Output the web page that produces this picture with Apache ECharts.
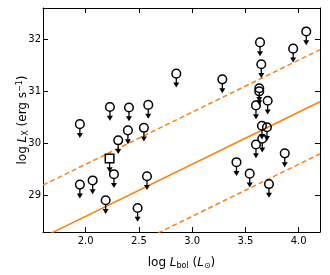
<!DOCTYPE html>
<html>
<head>
<meta charset="utf-8">
<script src="https://cdn.jsdelivr.net/npm/echarts@6/dist/echarts.min.js"></script>
<style>
  html, body { margin: 0; padding: 0; background: #fff; }
  #chart { width: 330px; height: 275px; }
</style>
</head>
<body>
<div id="chart"></div>
<script>
// Upper limits (circles): log Lbol (Lsun) and log Lx (erg/s)
const circleLbol = [1.946, 2.228, 2.407, 2.588, 2.397, 2.547, 2.306, 2.266, 1.946, 2.066, 2.188, 2.576, 2.488,
  2.851, 3.283, 3.637, 3.649, 3.948, 4.071, 3.630, 3.630, 3.709, 3.599, 3.655, 3.702, 3.658, 3.599, 3.869, 3.416, 3.540, 3.721];
const circleLx = [30.37, 30.70, 30.69, 30.74, 30.25, 30.30, 30.06, 29.41, 29.21, 29.29, 28.91, 29.37, 28.76,
  31.34, 31.23, 31.94, 31.52, 31.82, 32.15, 31.06, 31.00, 30.82, 30.73, 30.34, 30.31, 30.09, 29.98, 29.81, 29.64, 29.42, 29.22];
// Upper limit (square)
const squareLbol = [2.225];
const squareLx = [29.71];

// Relation lines (endpoints across the axis range)
const fitLbol = [1.6, 4.2];
const fitLx = [28.2, 30.8];
const upperLx = [29.2, 31.8];
const lowerLx = [27.2, 29.8];

const xTicks = [2.0, 2.5, 3.0, 3.5, 4.0];
const yTicks = [29, 30, 31, 32];
const xRange = [1.6, 4.2];
const yRange = [28.3, 32.6];

const ORANGE = '#ff7f0e';
const FONT = 'DejaVu Sans';

function pairs(xs, ys) { return xs.map((x, i) => [x, ys[i]]); }

function limitRenderer(kind) {
  return function (params, api) {
    const p = api.coord([api.value(0), api.value(1)]);
    const r = 4.3;
    const cx = p[0], cy = p[1];
    const children = [
      { type: 'line', shape: { x1: cx, y1: cy + r, x2: cx, y2: cy + r + 5 },
        style: { stroke: '#000', lineWidth: 1.3 } },
      { type: 'polygon', shape: { points: [[cx - 3, cy + r + 4.5], [cx + 3, cy + r + 4.5], [cx, cy + r + 9.5]] },
        style: { fill: '#000' } }
    ];
    if (kind === 'circle') {
      children.push({ type: 'circle', shape: { cx: cx, cy: cy, r: r },
        style: { fill: 'none', stroke: '#000', lineWidth: 1.5 } });
    } else {
      children.push({ type: 'rect', shape: { x: cx - r, y: cy - r, width: 2 * r, height: 2 * r },
        style: { fill: 'none', stroke: '#000', lineWidth: 1.5 } });
    }
    return { type: 'group', children: children };
  };
}

const axisLineStyle = { lineStyle: { color: '#000', width: 1 } };
const rich = {
  n: { fontFamily: FONT, fontSize: 12, color: '#000' },
  i: { fontFamily: FONT, fontSize: 12, fontStyle: 'italic', color: '#000' },
  sub: { fontFamily: FONT, fontSize: 8, color: '#000', padding: [6, 0, 0, 0] },
  sup: { fontFamily: FONT, fontSize: 8, color: '#000', padding: [0, 0, 6, 0] }
};

const chart = echarts.init(document.getElementById('chart'), null, { renderer: 'canvas' });
chart.setOption({
  animation: false,
  backgroundColor: '#fff',
  grid: { left: 43, right: 10, top: 8, bottom: 31, containLabel: false },
  xAxis: [
    {
      type: 'value', min: xRange[0], max: xRange[1], position: 'bottom',
      axisLine: axisLineStyle,
      axisTick: { inside: true, length: 5, customValues: xTicks, lineStyle: { color: '#000' } },
      axisLabel: { customValues: xTicks, formatter: v => v.toFixed(1), fontFamily: FONT, fontSize: 10, color: '#000', margin: 4 },
      splitLine: { show: false },
      name: '{n|log }{i|L}{sub|bol}{n| (}{i|L}{sub|⊙}{n|)}',
      nameLocation: 'middle', nameGap: 24, nameMoveOverlap: false,
      nameTextStyle: { rich: rich }
    },
    {
      type: 'value', min: xRange[0], max: xRange[1], position: 'top',
      axisLine: axisLineStyle,
      axisTick: { inside: true, length: 5, customValues: xTicks, lineStyle: { color: '#000' } },
      axisLabel: { show: false },
      splitLine: { show: false }
    }
  ],
  yAxis: [
    {
      type: 'value', min: yRange[0], max: yRange[1], position: 'left',
      axisLine: axisLineStyle,
      axisTick: { inside: true, length: 5, customValues: yTicks, lineStyle: { color: '#000' } },
      axisLabel: { customValues: yTicks, formatter: v => String(v), fontFamily: FONT, fontSize: 10, color: '#000', margin: 2 },
      splitLine: { show: false },
      name: '{n|log }{i|L}{sub|X}{n| (erg s}{sup|−1}{n|)}',
      nameLocation: 'middle', nameGap: 13, nameRotate: 90, nameMoveOverlap: false,
      nameTextStyle: { rich: rich }
    },
    {
      type: 'value', min: yRange[0], max: yRange[1], position: 'right',
      axisLine: axisLineStyle,
      axisTick: { inside: true, length: 5, customValues: yTicks, lineStyle: { color: '#000' } },
      axisLabel: { show: false },
      splitLine: { show: false }
    }
  ],
  series: [
    { type: 'line', data: pairs(fitLbol, fitLx), symbol: 'none', clip: true,
      lineStyle: { color: ORANGE, width: 1.5 } },
    { type: 'line', data: pairs(fitLbol, upperLx), symbol: 'none', clip: true,
      lineStyle: { color: ORANGE, width: 1.5, type: [5, 3] } },
    { type: 'line', data: pairs(fitLbol, lowerLx), symbol: 'none', clip: true,
      lineStyle: { color: ORANGE, width: 1.5, type: [5, 3] } },
    { type: 'custom', renderItem: limitRenderer('circle'), data: pairs(circleLbol, circleLx), clip: true, z: 5 },
    { type: 'custom', renderItem: limitRenderer('square'), data: pairs(squareLbol, squareLx), clip: true, z: 5 }
  ]
});
</script>
</body>
</html>
